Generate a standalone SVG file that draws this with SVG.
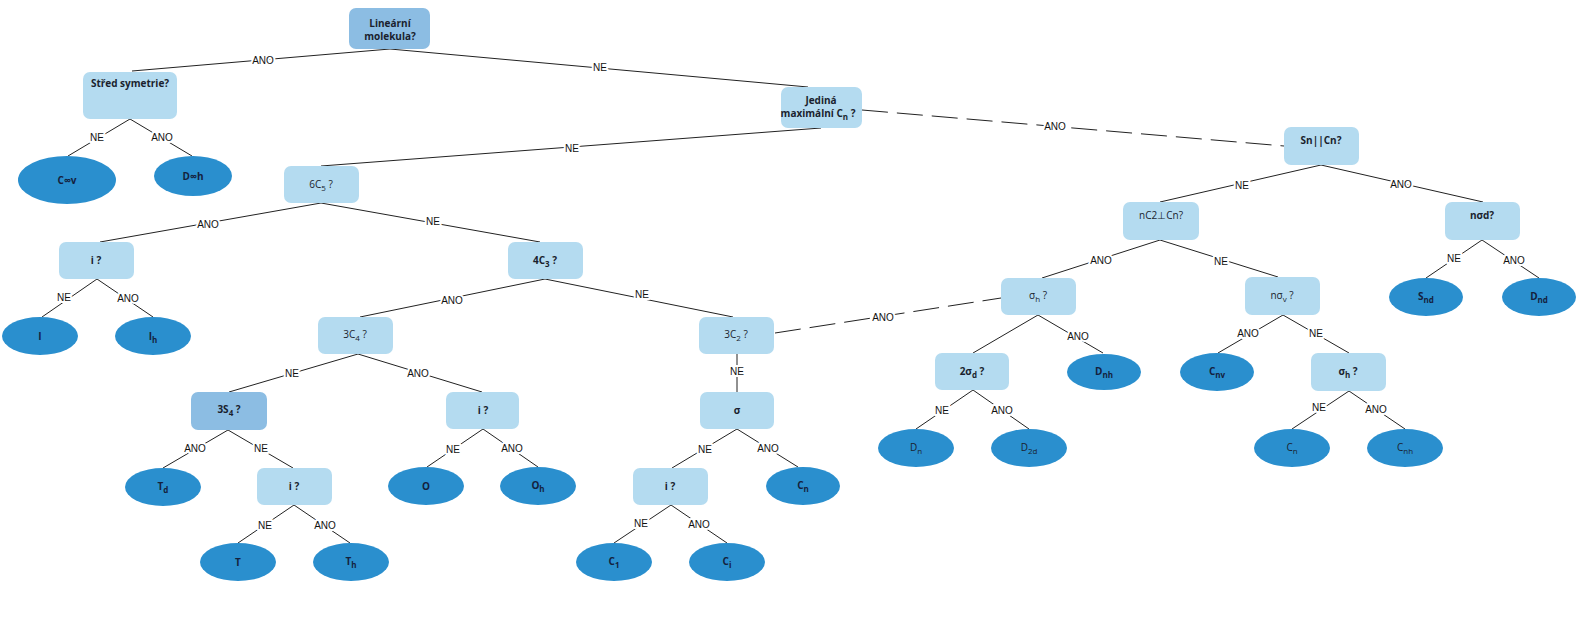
<svg xmlns="http://www.w3.org/2000/svg" width="1586" height="629" viewBox="0 0 1586 629">
<style>
.bx{fill:#b4dbf0}
.bd{fill:#8cbde3}
.el{fill:#2a8fce}
.t{font-family:"Open Sans","Liberation Sans",sans-serif;font-size:10px;fill:#1a1f2e;text-anchor:middle}
.b{font-weight:bold}
.lab{font-family:"Liberation Sans","Open Sans",sans-serif;font-size:10px;fill:#111;text-anchor:middle;stroke:#fff;stroke-width:4px;paint-order:stroke;stroke-linejoin:round}
.ln{stroke:#222;stroke-width:1;fill:none}
.ds{stroke:#222;stroke-width:1;fill:none;stroke-dasharray:26 9}
.et{font-family:"Open Sans","Liberation Sans",sans-serif;font-size:10px;fill:#14213d;text-anchor:middle;font-weight:bold}
</style>
<rect width="1586" height="629" fill="#fff"/>
<g id="connectors">
<line class="ln" x1="390" y1="49" x2="132" y2="71"/>
<line class="ln" x1="390" y1="49" x2="808" y2="87"/>
<line class="ln" x1="821" y1="128" x2="321" y2="166"/>
<line class="ds" x1="862" y1="110" x2="1284" y2="146"/>
<line class="ln" x1="130" y1="119" x2="68" y2="156"/>
<line class="ln" x1="130" y1="119" x2="192" y2="156"/>
<line class="ln" x1="321" y1="203" x2="100" y2="242"/>
<line class="ln" x1="321" y1="203" x2="540" y2="242"/>
<line class="ln" x1="97" y1="279" x2="42" y2="317"/>
<line class="ln" x1="97" y1="279" x2="153" y2="317"/>
<line class="ln" x1="545" y1="279" x2="360" y2="317"/>
<line class="ln" x1="545" y1="279" x2="733" y2="317"/>
<line class="ln" x1="358" y1="354" x2="229" y2="392"/>
<line class="ln" x1="358" y1="354" x2="482" y2="392"/>
<line class="ln" x1="737" y1="354" x2="737" y2="392"/>
<line class="ds" x1="775" y1="333" x2="1001" y2="298"/>
<line class="ln" x1="228" y1="430" x2="163" y2="468"/>
<line class="ln" x1="228" y1="430" x2="293" y2="468"/>
<line class="ln" x1="294" y1="505" x2="238" y2="543"/>
<line class="ln" x1="294" y1="505" x2="350" y2="543"/>
<line class="ln" x1="483" y1="429" x2="427" y2="467"/>
<line class="ln" x1="483" y1="429" x2="538" y2="467"/>
<line class="ln" x1="737" y1="429" x2="672" y2="468"/>
<line class="ln" x1="737" y1="429" x2="798" y2="467"/>
<line class="ln" x1="671" y1="505" x2="614" y2="543"/>
<line class="ln" x1="671" y1="505" x2="727" y2="543"/>
<line class="ln" x1="1321" y1="165" x2="1160" y2="202"/>
<line class="ln" x1="1321" y1="165" x2="1483" y2="202"/>
<line class="ln" x1="1160" y1="240" x2="1042" y2="278"/>
<line class="ln" x1="1160" y1="240" x2="1278" y2="277"/>
<line class="ln" x1="1482" y1="240" x2="1426" y2="278"/>
<line class="ln" x1="1482" y1="240" x2="1539" y2="278"/>
<line class="ln" x1="1038" y1="315" x2="973" y2="353"/>
<line class="ln" x1="1038" y1="315" x2="1103" y2="353"/>
<line class="ln" x1="973" y1="390" x2="916" y2="429"/>
<line class="ln" x1="973" y1="390" x2="1029" y2="429"/>
<line class="ln" x1="1283" y1="315" x2="1218" y2="353"/>
<line class="ln" x1="1283" y1="315" x2="1349" y2="353"/>
<line class="ln" x1="1349" y1="391" x2="1292" y2="429"/>
<line class="ln" x1="1349" y1="391" x2="1405" y2="429"/>
<text class="lab" x="263" y="64">ANO</text>
<text class="lab" x="600" y="71">NE</text>
<text class="lab" x="572" y="152">NE</text>
<text class="lab" x="1055" y="130">ANO</text>
<text class="lab" x="97" y="141">NE</text>
<text class="lab" x="162" y="141">ANO</text>
<text class="lab" x="208" y="228">ANO</text>
<text class="lab" x="433" y="225">NE</text>
<text class="lab" x="64" y="301">NE</text>
<text class="lab" x="128" y="302">ANO</text>
<text class="lab" x="452" y="304">ANO</text>
<text class="lab" x="642" y="298">NE</text>
<text class="lab" x="292" y="377">NE</text>
<text class="lab" x="418" y="377">ANO</text>
<text class="lab" x="737" y="375">NE</text>
<text class="lab" x="883" y="321">ANO</text>
<text class="lab" x="195" y="452">ANO</text>
<text class="lab" x="261" y="452">NE</text>
<text class="lab" x="265" y="529">NE</text>
<text class="lab" x="325" y="529">ANO</text>
<text class="lab" x="453" y="453">NE</text>
<text class="lab" x="512" y="452">ANO</text>
<text class="lab" x="705" y="453">NE</text>
<text class="lab" x="768" y="452">ANO</text>
<text class="lab" x="641" y="527">NE</text>
<text class="lab" x="699" y="528">ANO</text>
<text class="lab" x="1242" y="189">NE</text>
<text class="lab" x="1401" y="188">ANO</text>
<text class="lab" x="1101" y="264">ANO</text>
<text class="lab" x="1221" y="265">NE</text>
<text class="lab" x="1454" y="262">NE</text>
<text class="lab" x="1514" y="264">ANO</text>
<text class="lab" x="1078" y="340">ANO</text>
<text class="lab" x="942" y="414">NE</text>
<text class="lab" x="1002" y="414">ANO</text>
<text class="lab" x="1248" y="337">ANO</text>
<text class="lab" x="1316" y="337">NE</text>
<text class="lab" x="1319" y="411">NE</text>
<text class="lab" x="1376" y="413">ANO</text>
</g>
<g id="n-linearni"><rect class="bd" x="349" y="8" width="81" height="41" rx="7"/><text class="t b" x="390" y="27">Lineární</text><text class="t b" x="390" y="40">molekula?</text></g>
<g id="n-stred"><rect class="bx" x="83" y="72" width="94" height="47" rx="7"/><text class="t b" x="130" y="87">Střed symetrie?</text></g>
<g id="n-jedina"><rect class="bx" x="781" y="87" width="81" height="41" rx="7"/><text class="t b" x="821" y="104">Jediná</text><text class="t b" x="818" y="117">maximální C<tspan dy="3" font-size="8">n</tspan><tspan dy="-3"> ?</tspan></text></g>
<g id="n-sncn"><rect class="bx" x="1284" y="127" width="75" height="38" rx="7"/><text class="t b" x="1321" y="144">Sn||Cn?</text></g>
<g id="n-6c5"><rect class="bx" x="284" y="166" width="75" height="37" rx="7"/><text class="t" x="321" y="188">6C<tspan dy="3" font-size="8">5</tspan><tspan dy="-3"> ?</tspan></text></g>
<g id="n-i1"><rect class="bx" x="59" y="242" width="75" height="37" rx="7"/><text class="t b" x="96" y="264">i ?</text></g>
<g id="n-4c3"><rect class="bx" x="508" y="242" width="75" height="37" rx="7"/><text class="t b" x="545" y="264">4C<tspan dy="3" font-size="8">3</tspan><tspan dy="-3"> ?</tspan></text></g>
<g id="n-nc2"><rect class="bx" x="1123" y="202" width="76" height="38" rx="7"/><text class="t" x="1161" y="219">nC2⊥Cn?</text></g>
<g id="n-nsd"><rect class="bx" x="1445" y="202" width="75" height="38" rx="7"/><text class="t b" x="1482" y="219">nσd?</text></g>
<g id="n-3c4"><rect class="bx" x="318" y="317" width="75" height="37" rx="7"/><text class="t" x="355" y="338">3C<tspan dy="3" font-size="8">4</tspan><tspan dy="-3"> ?</tspan></text></g>
<g id="n-3c2"><rect class="bx" x="699" y="317" width="75" height="37" rx="7"/><text class="t" x="736" y="338">3C<tspan dy="3" font-size="8">2</tspan><tspan dy="-3"> ?</tspan></text></g>
<g id="n-sh1"><rect class="bx" x="1001" y="278" width="75" height="37" rx="7"/><text class="t" x="1038" y="299">σ<tspan dy="3" font-size="8">h</tspan><tspan dy="-3"> ?</tspan></text></g>
<g id="n-nsv"><rect class="bx" x="1245" y="277" width="75" height="38" rx="7"/><text class="t" x="1282" y="299">nσ<tspan dy="3" font-size="8">v</tspan><tspan dy="-3"> ?</tspan></text></g>
<g id="n-3s4"><rect class="bd" x="191" y="392" width="76" height="38" rx="7"/><text class="t b" x="229" y="413">3S<tspan dy="3" font-size="8">4</tspan><tspan dy="-3"> ?</tspan></text></g>
<g id="n-i2"><rect class="bx" x="446" y="392" width="73" height="37" rx="7"/><text class="t b" x="483" y="414">i ?</text></g>
<g id="n-sigma"><rect class="bx" x="700" y="392" width="74" height="37" rx="7"/><text class="t b" x="737" y="414">σ</text></g>
<g id="n-2sd"><rect class="bx" x="935" y="353" width="74" height="37" rx="7"/><text class="t b" x="972" y="375">2σ<tspan dy="3" font-size="8">d</tspan><tspan dy="-3"> ?</tspan></text></g>
<g id="n-sh2"><rect class="bx" x="1311" y="353" width="75" height="38" rx="7"/><text class="t b" x="1348" y="375">σ<tspan dy="3" font-size="8">h</tspan><tspan dy="-3"> ?</tspan></text></g>
<g id="n-i3"><rect class="bx" x="257" y="468" width="75" height="37" rx="7"/><text class="t b" x="294" y="490">i ?</text></g>
<g id="n-i4"><rect class="bx" x="633" y="468" width="75" height="37" rx="7"/><text class="t b" x="670" y="490">i ?</text></g>
<g id="n-cinfv"><ellipse class="el" cx="67" cy="180" rx="49" ry="24"/><text class="et" x="67" y="184" font-size="8">C∞v</text></g>
<g id="n-dinfh"><ellipse class="el" cx="193" cy="176" rx="39" ry="20"/><text class="et" x="193" y="180" font-size="8">D∞h</text></g>
<g id="n-I"><ellipse class="el" cx="40" cy="336" rx="38" ry="19"/><text class="et" x="40" y="340">I</text></g>
<g id="n-Ih"><ellipse class="el" cx="153" cy="336" rx="38" ry="19"/><text class="et" x="153" y="340">I<tspan dy="3" font-size="8">h</tspan></text></g>
<g id="n-Td"><ellipse class="el" cx="163" cy="487" rx="38" ry="19"/><text class="et" x="163" y="490">T<tspan dy="3" font-size="8">d</tspan></text></g>
<g id="n-T"><ellipse class="el" cx="238" cy="562" rx="38" ry="19"/><text class="et" x="238" y="566">T</text></g>
<g id="n-Th"><ellipse class="el" cx="351" cy="562" rx="38" ry="19"/><text class="et" x="351" y="565">T<tspan dy="3" font-size="8">h</tspan></text></g>
<g id="n-O"><ellipse class="el" cx="426" cy="486" rx="38" ry="19"/><text class="et" x="426" y="490">O</text></g>
<g id="n-Oh"><ellipse class="el" cx="538" cy="486" rx="38" ry="19"/><text class="et" x="538" y="489">O<tspan dy="3" font-size="8">h</tspan></text></g>
<g id="n-C1"><ellipse class="el" cx="614" cy="562" rx="38" ry="19"/><text class="et" x="614" y="565">C<tspan dy="3" font-size="8">1</tspan></text></g>
<g id="n-Ci"><ellipse class="el" cx="727" cy="562" rx="38" ry="19"/><text class="et" x="727" y="565">C<tspan dy="3" font-size="8">i</tspan></text></g>
<g id="n-Cn1"><ellipse class="el" cx="803" cy="486" rx="37" ry="19"/><text class="et" x="803" y="489">C<tspan dy="3" font-size="8">n</tspan></text></g>
<g id="n-Dn"><ellipse class="el" cx="916" cy="448" rx="38" ry="19"/><text class="t" x="916" y="451">D<tspan dy="3" font-size="8">n</tspan></text></g>
<g id="n-D2d"><ellipse class="el" cx="1029" cy="448" rx="38" ry="19"/><text class="t" x="1029" y="451">D<tspan dy="3" font-size="8">2d</tspan></text></g>
<g id="n-Dnh"><ellipse class="el" cx="1104" cy="372" rx="37" ry="18"/><text class="et" x="1104" y="375">D<tspan dy="3" font-size="8">nh</tspan></text></g>
<g id="n-Cnv"><ellipse class="el" cx="1217" cy="372" rx="37" ry="19"/><text class="et" x="1217" y="375">C<tspan dy="3" font-size="8">nv</tspan></text></g>
<g id="n-Cn2"><ellipse class="el" cx="1292" cy="448" rx="38" ry="19"/><text class="t" x="1292" y="451">C<tspan dy="3" font-size="8">n</tspan></text></g>
<g id="n-Cnh"><ellipse class="el" cx="1405" cy="448" rx="38" ry="19"/><text class="t" x="1405" y="451">C<tspan dy="3" font-size="8">nh</tspan></text></g>
<g id="n-Snd"><ellipse class="el" cx="1426" cy="297" rx="37" ry="19"/><text class="et" x="1426" y="300">S<tspan dy="3" font-size="8">nd</tspan></text></g>
<g id="n-Dnd"><ellipse class="el" cx="1539" cy="297" rx="37" ry="19"/><text class="et" x="1539" y="300">D<tspan dy="3" font-size="8">nd</tspan></text></g>
</svg>
